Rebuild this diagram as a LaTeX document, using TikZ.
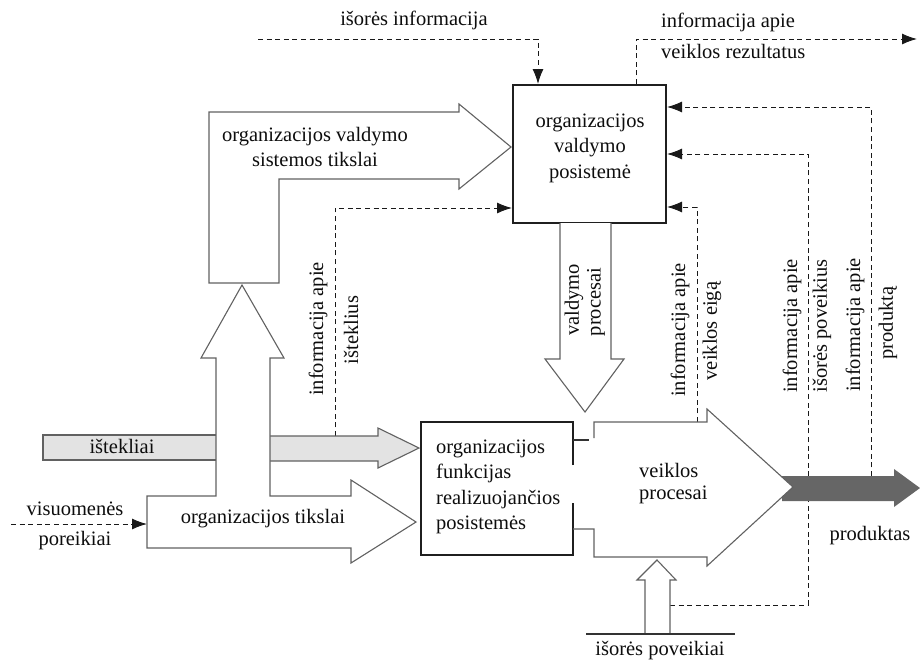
\documentclass[tikz,border=0pt]{standalone}
\usepackage{fontspec}
\setmainfont{Liberation Serif}
\usetikzlibrary{arrows.meta}
\begin{document}
\begin{tikzpicture}[x=1pt,y=-1pt,
  blockarrow/.style={draw=black!62,line width=1.1pt,fill=white,line join=miter},
  resbar/.style={draw=black!62,line width=1.1pt,fill=black!11},
  prodbar/.style={fill=black!60},
  sysbox/.style={draw=black!88,line width=2pt},
  info/.style={draw=black!90,line width=1pt,dash pattern=on 5pt off 3.6pt,
    -{Latex[length=15pt,width=11pt]}},
  lbl/.style={font=\fontsize{20.5}{25.5}\selectfont,text=black!95,inner sep=0pt},
  vlbl/.style={lbl,rotate=90}]
\useasboundingbox (0,0) rectangle (920,662);

% ---- management subsystem box ----
\node[sysbox,minimum width=153pt,minimum height=138pt,inner sep=0pt] (vbox) at (589.5,154) {};
\node[lbl,align=center] (vtext) at (590,148) {organizacijos\\valdymo\\posistemė};

% ---- functional subsystem box (right side left open in the middle) ----
\draw[sysbox] (573,465) -- (573,422) -- (421,422) -- (421,555) -- (573,555) -- (573,503);
\node[lbl,align=left,anchor=west] (ftext) at (436,487)
  {organizacijos\\funkcijas\\realizuojančios\\posistemės};

% ---- dashed information flows ----
\coordinate (ext0) at (258,39);
\coordinate (out1) at (917,39);
\draw[info] (ext0) -- (538,39) -- (vbox.north -| 538,0);
\draw[info] (vbox.north -| 636,0) -- (636,39) -- (out1);

\coordinate (soc0) at (11,524);
\draw[info] (soc0) -- (147,524);

\draw[info] (335,436) -- (335,208) -- (vbox.west |- 0,208);
\draw[info] (697,422) -- (697,207) -- (vbox.east |- 0,207);
\draw[info] (670,605) -- (808,605) -- (808,154) -- (vbox.east |- 0,154);
\draw[info] (871,476) -- (871,107) -- (vbox.east |- 0,107);

% ---- resources bar ----
\draw[resbar] (216,435) -- (43,435) -- (43,460) -- (216,460);
\draw[resbar] (270,436) -- (378,436) -- (378,428) -- (419,448) -- (378,468)
  -- (378,461) -- (270,461);

% ---- organisational goals arrow with its branch upwards ----
\draw[blockarrow] (216,496) -- (147,496) -- (147,548) -- (351,548) -- (351,563)
  -- (416,522) -- (351,480) -- (351,496) -- (270,496) -- (270,358) -- (284,358)
  -- (242,285) -- (201,358) -- (216,358) -- cycle;

% ---- management system goals (L-shaped arrow) ----
\draw[blockarrow] (209,283) -- (209,112) -- (459,112) -- (459,104) -- (511,147)
  -- (459,189) -- (459,179) -- (279,179) -- (279,283) -- cycle;

% ---- management processes (downward arrow) ----
\draw[blockarrow] (560,223) -- (560,359) -- (545,359) -- (585,412) -- (624,359)
  -- (611,359) -- (611,223);

% ---- product bar (under the activity arrow) ----
\fill[prodbar] (782,476) -- (894,476) -- (894,469) -- (920,488) -- (894,507)
  -- (894,501) -- (782,501) -- cycle;

% ---- activity processes arrow ----
\fill[white] (594,422) -- (707,422) -- (707,409) -- (793,487) -- (707,566)
  -- (707,557) -- (594,557) -- cycle;
\draw[blockarrow,fill=none] (594,438) -- (594,422) -- (707,422) -- (707,409)
  -- (793,487) -- (707,566) -- (707,557) -- (594,557) -- (594,529) -- (573,529);
\draw[blockarrow,line width=1.4pt,draw=black!80] (573,440) -- (589,440);

% ---- external influences ----
\draw[blockarrow] (645,634) -- (645,580) -- (637,580) -- (657,560) -- (676,580)
  -- (670,580) -- (670,634);
\draw[black!80,line width=1.1pt] (586,634) -- (735,634);

% ---- labels ----
\node[lbl] (l1) at (414,20) {išorės informacija};
\node[lbl,anchor=west] (l2) at (661,22) {informacija apie};
\node[lbl,anchor=west] (l3) at (661,51) {veiklos rezultatus};
\node[lbl,align=center] (l4) at (315,147) {organizacijos valdymo\\sistemos tikslai};
\node[lbl] (l5) at (122,446) {ištekliai};
\node[lbl] (l6) at (263,519) {organizacijos tikslai};
\node[lbl] (l7) at (75,509) {visuomenės};
\node[lbl] (l8) at (75,541) {poreikiai};
\node[lbl,anchor=west] (l9) at (639,470) {veiklos};
\node[lbl,anchor=west] (l10) at (639,495) {procesai};
\node[lbl] (l11) at (870,536) {produktas};
\node[lbl] (l12) at (660,651) {išorės poveikiai};

\node[vlbl] (r1) at (318,329) {informacija apie};
\node[vlbl] (r2) at (351,330) {išteklius};
\node[vlbl] (r3) at (574,300) {valdymo};
\node[vlbl] (r4) at (596,302) {procesai};
\node[vlbl] (r5) at (680,330) {informacija apie};
\node[vlbl] (r6) at (712,331) {veiklos eigą};
\node[vlbl] (r7) at (792,326) {informacija apie};
\node[vlbl] (r8) at (822,326) {išorės poveikius};
\node[vlbl] (r9) at (855,325) {informacija apie};
\node[vlbl] (r10) at (888,323) {produktą};
\end{tikzpicture}
\end{document}
